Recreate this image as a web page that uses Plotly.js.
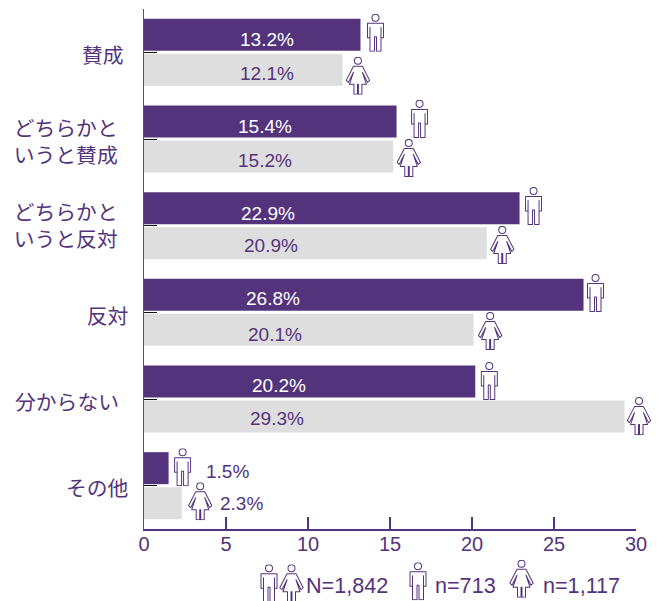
<!DOCTYPE html>
<html>
<head>
<meta charset="utf-8">
<script src="https://cdn.plot.ly/plotly-3.0.1.min.js"></script>
<style>html,body{margin:0;padding:0;background:#fff}</style>
</head>
<body>
<div id="chart" style="width:664px;height:601px"></div>
<script>
// Data
const pad2 = '\u00A0\u00A0\u200A';
const categories = ['賛成\u00A0', 'どちらかと' + pad2 + '<br>いうと賛成' + pad2, 'どちらかと' + pad2 + '<br>いうと反対' + pad2, '反対', '分からない\u00A0\u00A0', 'その他'];
const categoryIndex = [0, 1, 2, 3, 4, 5];
const maleValues = [13.2, 15.4, 22.9, 26.8, 20.2, 1.5];
const femaleValues = [12.1, 15.2, 20.9, 20.1, 29.3, 2.3];
const axisTicks = [0, 5, 10, 15, 20, 25, 30];
const legendTexts = ['N=1,842', 'n=713', 'n=1,117'];

// Label and pictogram placement in the picture (page pixels)
const maleLabelPos = [[267, 40], [265, 127], [268, 214], [273, 298], [279, 385], [227, 471]];
const femaleLabelPos = [[267, 74], [265, 161], [271, 246], [275, 334], [277, 418], [241, 503]];
const maleIconGap = [6, 14, 5, 3, 5, 5];
const maleIconMid = [33, 119, 206, 293, 381, 467];
const femaleIconGap = [3, 3, 3, 4, 2, 6];
const femaleIconMid = [76, 158, 245, 331, 416, 501];
const categoryLabelShift = [3, 3, 0.5, 4.5, 4, 3.5];

const PURPLE = '#53347c', GRAY = '#dedede';
const L = 144, R = 636, T = 9.2, B = 528.8, W = R - L, H = B - T;
const pxPerUnit = W / 30, band = H / 6;
const fontLatin = '"Liberation Sans", Arial, sans-serif';
const fontCJK = '"Noto Sans CJK JP", sans-serif';

const svgUri = body => 'data:image/svg+xml;utf8,' + encodeURIComponent(body);
const iconStyle = `fill="#fff" stroke="${PURPLE}" stroke-width="1" stroke-linejoin="round"`;
const manSvg = svgUri(`<svg xmlns="http://www.w3.org/2000/svg" width="18" height="38" viewBox="0 0 18 38">
<circle cx="9" cy="4" r="3.5" ${iconStyle}/>
<path d="M1 9.5H17V24H14.5V13.5V37.5H10V23H8V37.5H3.5V13.5V24H1Z" ${iconStyle}/></svg>`);
const womanSvg = svgUri(`<svg xmlns="http://www.w3.org/2000/svg" width="25" height="38" viewBox="0 0 25 38">
<circle cx="12.5" cy="4" r="3.5" ${iconStyle}/>
<path d="M8 9.5H17L24.2 23.5L22 25.5L17 15.5L21 27.5H16.5V37.5H13V27.5H12V37.5H8.5V27.5H4L8 15.5L3 25.5L0.8 23.5Z" ${iconStyle}/></svg>`);

const paperX = px => (px - L) / W;
const paperY = py => (B - py) / H;

const images = [];
function icon(src, left, mid, w) {
  images.push({source: src, xref: 'paper', yref: 'paper', x: paperX(left), y: paperY(mid),
    sizex: w / W, sizey: 38 / H, sizing: 'stretch', xanchor: 'left', yanchor: 'middle', layer: 'above'});
}
categoryIndex.forEach(i => {
  icon(manSvg, L + maleValues[i] * pxPerUnit + maleIconGap[i], maleIconMid[i], 18);
  icon(womanSvg, L + femaleValues[i] * pxPerUnit + femaleIconGap[i], femaleIconMid[i], 25);
});
icon(manSvg, 260, 583, 18);
icon(womanSvg, 279, 583, 25);
icon(manSvg, 409, 581, 18);
icon(womanSvg, 509, 578.5, 25);

const annotations = [];
function valueLabel(val, pos, color) {
  annotations.push({xref: 'paper', yref: 'paper', x: paperX(pos[0]), y: paperY(pos[1]),
    text: val.toFixed(1) + '%', showarrow: false, xanchor: 'center', yanchor: 'middle',
    font: {family: fontLatin, size: 19, color: color}});
}
categoryIndex.forEach(i => {
  valueLabel(maleValues[i], maleLabelPos[i], i === 5 ? PURPLE : '#ffffff');
  valueLabel(femaleValues[i], femaleLabelPos[i], PURPLE);
});
[[305, 585], [433.5, 585], [542, 585]].forEach((p, k) => {
  annotations.push({xref: 'paper', yref: 'paper', x: paperX(p[0]), y: paperY(p[1]), text: legendTexts[k],
    showarrow: false, xanchor: 'left', yanchor: 'middle', xshift: -1,
    font: {family: fontLatin, size: 21.6, color: PURPLE}});
});

const data = [
  {type: 'bar', orientation: 'h', name: '男性', x: maleValues, y: categoryIndex, marker: {color: PURPLE}, hoverinfo: 'x'},
  {type: 'bar', orientation: 'h', name: '女性', x: femaleValues, y: categoryIndex, marker: {color: GRAY}, hoverinfo: 'x'}
];

const layout = {
  width: 664, height: 601,
  margin: {l: L, r: 664 - R, t: T, b: 601 - B, pad: 0},
  paper_bgcolor: '#fff', plot_bgcolor: '#fff',
  showlegend: false,
  barmode: 'group', bargap: 0.192, bargroupgap: 0.0857,
  xaxis: {
    range: [0, 30], tickmode: 'array', tickvals: axisTicks, ticktext: axisTicks.map(String),
    ticks: 'inside', ticklen: 12, tickwidth: 1.2, tickcolor: PURPLE,
    showline: true, linecolor: PURPLE, linewidth: 1.5, showgrid: false, zeroline: false,
    ticklabelstandoff: -4,
    tickfont: {family: fontLatin, size: 20, color: PURPLE}, fixedrange: true
  },
  yaxis: {
    range: [5.5, -0.5], tickmode: 'array',
    tickvals: categoryIndex.map(i => i + categoryLabelShift[i] / band), ticktext: categories,
    ticks: '', 
    minor: {tickmode: 'array', tickvals: categoryIndex, ticks: 'inside', ticklen: 13, tickwidth: 1, tickcolor: '#111', showgrid: false},
    showline: true, linecolor: '#555', linewidth: 1.5, showgrid: false, zeroline: false,
    ticklabelstandoff: 10,
    tickfont: {family: fontCJK, size: 20.8, color: PURPLE}, fixedrange: true
  },
  images, annotations
};
Plotly.newPlot('chart', data, layout, {displayModeBar: false, staticPlot: true});
</script>
</body>
</html>
